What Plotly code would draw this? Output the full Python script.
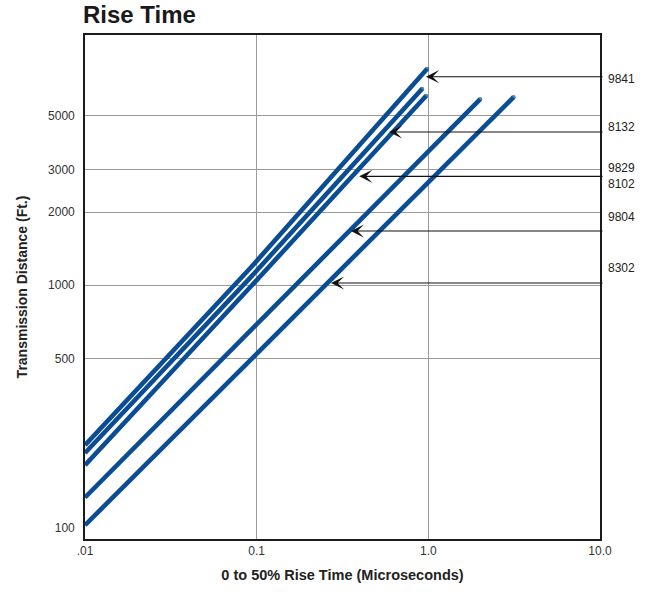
import numpy as np
import plotly.graph_objects as go

# ---- data ----
series_names = ["9841", "8132", "9829 / 8102", "9804", "8302"]
rise_9841 = [0.01, 0.093, 0.982]
dist_9841 = [220, 1189, 7760]
rise_8132 = [0.01, 0.093, 0.918]
dist_8132 = [204, 1086, 6422]
rise_9829 = [0.01, 0.093, 0.969]
dist_9829 = [182, 993, 6009]
rise_9804 = [0.01, 2.0]
dist_9804 = [134, 5824]
rise_8302 = [0.01, 3.13]
dist_8302 = [103, 5937]

# arrow tips (where each callout points) and label texts
callout_rise = [0.969, 0.590, 0.396, 0.354, 0.271]
callout_dist = [7217, 4274, 2808, 1672, 1022]
callout_tail_rise = 10.55
label_texts = ["9841", "8132", "9829", "8102", "9804", "8302"]
label_ypos = [0.913, 0.818, 0.7355, 0.7035, 0.6395, 0.538]

x_tickvals = [0.01, 0.1, 1, 10]
x_ticktext = [".01", "0.1", "1.0", "10.0"]
y_tickvals = [100, 500, 1000, 2000, 3000, 5000]
y_ticktext = ["100", "500", "1000", "2000", "3000", "5000"]
y_gridvals = [500, 1000, 2000, 3000, 5000]

LINE_COLOR = "#0b4d95"
FONT = "Liberation Sans, Arial, sans-serif"

W, H = 649, 598

fig = go.Figure()
all_series = [
    (rise_9841, dist_9841),
    (rise_8132, dist_8132),
    (rise_9829, dist_9829),
    (rise_9804, dist_9804),
    (rise_8302, dist_8302),
]
for name, (xs, ys) in zip(series_names, all_series):
    sizes = [0] * (len(xs) - 1) + [4.6]
    fig.add_trace(go.Scatter(
        x=xs, y=ys, name=name, mode="lines+markers",
        line=dict(color=LINE_COLOR, width=4.6),
        marker=dict(size=sizes, color=LINE_COLOR, line=dict(width=0)),
        showlegend=False, hoverinfo="x+y+name",
    ))

# arrows
for xr, yd in zip(callout_rise, callout_dist):
    fig.add_annotation(
        x=np.log10(xr), y=np.log10(yd), xref="x", yref="y",
        ax=np.log10(callout_tail_rise), ay=np.log10(yd), axref="x", ayref="y",
        text="", showarrow=True, arrowhead=3, arrowsize=2.0, arrowwidth=1.1,
        arrowcolor="#111111", standoff=0,
    )
# labels
for t, yp in zip(label_texts, label_ypos):
    fig.add_annotation(
        x=1.0117, y=yp, xref="paper", yref="paper", text=t, showarrow=False,
        xanchor="left", yanchor="middle",
        font=dict(family=FONT, size=12, color="#222222"),
    )

fig.update_layout(
    width=W, height=H,
    margin=dict(l=85, r=49, t=35, b=59),
    paper_bgcolor="white", plot_bgcolor="white",
    title=dict(text="<b>Rise Time</b>", x=83 / W, xref="container", xanchor="left",
               y=1 - 15 / H, yref="container", yanchor="middle",
               font=dict(family=FONT, size=24, color="#1a1a1a")),
    font=dict(family=FONT, color="#222222"),
)
fig.update_xaxes(
    type="log", range=[-2, 1],
    tickvals=x_tickvals, ticktext=x_ticktext, ticks="",
    tickfont=dict(size=12, color="#333333"),
    showgrid=True, gridcolor="#9a9a9a", gridwidth=1,
    showline=True, linecolor="#1a1a1a", linewidth=1.6, mirror=True,
    zeroline=False,
    title=dict(text="<b>0 to 50% Rise Time (Microseconds)</b>",
               font=dict(family=FONT, size=14.5, color="#222222"), standoff=13),
)
fig.update_yaxes(
    type="log", range=[1.9559, 4.0300],
    tickvals=y_tickvals, ticktext=y_ticktext, ticks="",
    ticklabelstandoff=6,
    tickfont=dict(size=12, color="#333333"),
    showgrid=False,
    minor=dict(tickvals=y_gridvals, showgrid=True, gridcolor="#9a9a9a", gridwidth=1, ticks=""),
    showline=True, linecolor="#1a1a1a", linewidth=1.6, mirror=True,
    zeroline=False,
    title=dict(text="<b>Transmission Distance (Ft.)</b>",
               font=dict(family=FONT, size=14, color="#222222"), standoff=17),
)

fig.write_html("out.html", config={"displayModeBar": False},
               post_script="document.body.style.margin='0';")
